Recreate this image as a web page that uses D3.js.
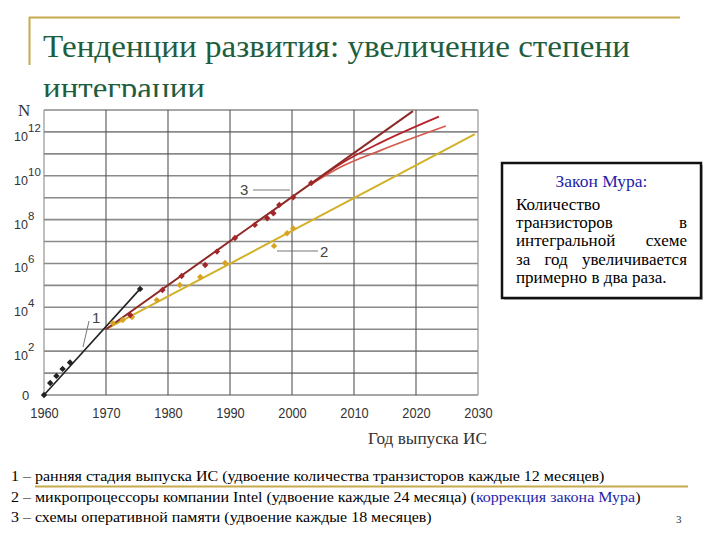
<!DOCTYPE html>
<html>
<head>
<meta charset="utf-8">
<script src="https://cdn.jsdelivr.net/npm/d3@7"></script>
<style>
body{margin:0;background:#fff}
.serif{font-family:'Liberation Serif','DejaVu Serif',serif}
.sans{font-family:'Liberation Sans','DejaVu Sans',sans-serif}
</style>
</head>
<body>
<script>
var xTicks = [1960,1970,1980,1990,2000,2010,2020,2030];
var yLabels = [0,2,4,6,8,10,12];
var yGrid = [0,1,2,3,4,5,6,7,8,9,10,11,12,13];

// [year, log10 N]
var line1 = [[1960,0],[1975.5,4.84]];
var marks1 = [[1960,0],[1961,0.55],[1962,0.87],[1963,1.19],[1964.2,1.48],[1975.5,4.84]];
var line2 = [[1970,3.0],[2029.5,11.9]];
var marks2 = [[1971.1,3.28],[1972.7,3.42],[1974.2,3.56],[1978.2,4.33],[1981.9,5.02],[1985.2,5.38],[1989.2,6.02],[1997.1,6.80],[1999.2,7.38],[2000.2,7.60]];
var line3 = [[1970,3.0],[2019.5,12.95]];
var line3a = [[2003,9.6],[2008,10.57],[2014.2,11.5],[2023.7,12.7]];
var line3b = [[2003,9.6],[2008,10.42],[2014.2,11.15],[2024.8,12.27]];
var marks3 = [[1973.9,3.65],[1979.1,4.79],[1982.2,5.43],[1986,5.93],[1987.9,6.54],[1990.8,7.16],[1994,7.76],[1996,8.06],[1997,8.29],[1997.95,8.67],[2000.2,9.02],[2003.1,9.67]];

var boxLines = [["Количество"],["транзисторов","в"],["интегральной","схеме"],["за","год","увеличивается"],["примерно","в","два","раза."]];
var notes = [
  [["1 – ранняя стадия выпуска ИС (удвоение количества транзисторов каждые 12 месяцев)","#000"]],
  [["2 – микропроцессоры компании Intel (удвоение каждые 24 месяца) (","#000"],["коррекция закона Мура","#1f1fa8"],[")","#000"]],
  [["3 – схемы оперативной памяти (удвоение каждые 18 месяцев)","#000"]]
];
var noteW = [594, 630, 421];

var svg = d3.select("body").append("svg").attr("width",720).attr("height",540);

function fit(sel, x, y, w){
  var n = sel.node().getComputedTextLength();
  sel.attr("transform","translate("+x+","+y+") scale("+(w/n)+",1)");
}

// slide frame
var gold = "#c8aa4e";
svg.append("line").attr("x1",29).attr("x2",680).attr("y1",17.5).attr("y2",17.5).attr("stroke",gold).attr("stroke-width",2);
svg.append("line").attr("x1",29.5).attr("x2",29.5).attr("y1",17).attr("y2",65).attr("stroke",gold).attr("stroke-width",2);

var t1 = svg.append("text").attr("class","serif").attr("font-size",31).attr("fill","#1e5e3e").text("Тенденции развития: увеличение степени");
fit(t1, 43, 57, 587);
var t2 = svg.append("text").attr("class","serif").attr("font-size",31).attr("fill","#1e5e3e").text("интеграции");
fit(t2, 43, 99, 162);

// chart picture covers the title's second line
svg.append("rect").attr("x",0).attr("y",97).attr("width",492).attr("height",356).attr("fill","#fff");

var x = d3.scaleLinear().domain([1960,2030]).range([44,478]);
var y = d3.scaleLinear().domain([0,13]).range([395,110]);

var g = svg.append("g");
g.selectAll(".hg").data(yGrid).enter().append("line")
  .attr("x1",x(1960)).attr("x2",x(2030))
  .attr("y1",function(d){return y(d);}).attr("y2",function(d){return y(d);})
  .attr("stroke","#8a8a8a").attr("stroke-width",1.6);
g.selectAll(".vg").data(xTicks).enter().append("line")
  .attr("x1",function(d){return x(d);}).attr("x2",function(d){return x(d);})
  .attr("y1",y(0)).attr("y2",y(13))
  .attr("stroke",function(d){return d==1960||d==2030?"#8a8a8a":"#555";}).attr("stroke-width",1.1);

// x axis labels
var ax = svg.append("g").attr("transform","translate(0,"+y(0)+")")
  .call(d3.axisBottom(x).tickValues(xTicks).tickSize(0).tickFormat(d3.format("d")));
ax.select(".domain").remove();
ax.attr("font-family",null);
ax.selectAll("text").attr("class","sans").attr("y",0).attr("dy",0).attr("transform","translate(0,23) scale(0.95,1.05)")
  .attr("font-size",13.5).attr("fill","#333");

// y labels
yLabels.forEach(function(e){
  var yy = y(e);
  if(e==0){
    svg.append("text").attr("class","sans").attr("x",25.5).attr("y",yy+5).attr("text-anchor","middle")
      .attr("font-size",13).attr("fill","#333").text("0");
  } else {
    svg.append("text").attr("class","sans").attr("x",28).attr("y",yy+9).attr("text-anchor","end")
      .attr("font-size",12.5).attr("fill","#333").text("10");
    svg.append("text").attr("class","sans").attr("x",28).attr("y",yy).attr("font-size",11.5)
      .attr("fill","#333").text(e);
  }
});
svg.append("text").attr("class","serif").attr("x",18).attr("y",116).attr("font-size",17).attr("fill","#333").text("N");
var xl = svg.append("text").attr("class","serif").attr("font-size",16).attr("fill","#333").text("Год выпуска ИС");
fit(xl, 368, 444, 119);

var line = d3.line().x(function(d){return x(d[0]);}).y(function(d){return y(d[1]);});
var curve = d3.line().curve(d3.curveMonotoneX).x(function(d){return x(d[0]);}).y(function(d){return y(d[1]);});

function draw(data, gen, color, w){
  svg.append("path").datum(data).attr("d",gen).attr("fill","none").attr("stroke",color).attr("stroke-width",w);
}
draw(line2, line, "#d2b128", 2);
draw(line3b, curve, "#d25a4c", 1.8);
draw(line3a, curve, "#b8232b", 1.8);
draw(line3, line, "#8e2a26", 2);
draw(line1, line, "#222", 1.6);

function marks(data, color){
  svg.append("g").selectAll("path").data(data).enter().append("path")
    .attr("d", d3.symbol().type(d3.symbolDiamond2).size(26))
    .attr("transform",function(d){return "translate("+x(d[0])+","+y(d[1])+")";})
    .attr("fill",color);
}
marks(marks2, "#d8a322");
marks(marks3, "#a3262a");
marks(marks1, "#222");

// series labels
function lab(txt, tx, ty, x1, y1, x2, y2){
  svg.append("line").attr("x1",x1).attr("y1",y1).attr("x2",x2).attr("y2",y2).attr("stroke","#777").attr("stroke-width",1);
  svg.append("text").attr("class","sans").attr("x",tx).attr("y",ty).attr("font-size",15).attr("fill","#444").text(txt);
}
lab("1", 92, 323, 89, 321, 83, 347);
lab("3", 240, 195, 253, 190, 290, 190);
lab("2", 320, 257, 277, 251, 318, 251);

// Moore box
svg.append("rect").attr("x",504).attr("y",165).attr("width",199).attr("height",135).attr("fill","#bbb");
svg.append("rect").attr("x",502).attr("y",163).attr("width",199).attr("height",135).attr("fill","#fff")
  .attr("stroke","#111").attr("stroke-width",2.5);
svg.append("text").attr("class","serif").attr("x",601.5).attr("y",187).attr("text-anchor","middle").attr("font-size",17.5)
  .attr("fill","#1f1fa8").text("Закон Мура:");
var bl = 516, br = 687;
boxLines.forEach(function(words, i){
  var by = 210 + i*18.2;
  var last = i == boxLines.length-1;
  var nodes = words.map(function(w){
    return svg.append("text").attr("class","serif").attr("y",by).attr("font-size",17).attr("fill","#000").text(w);
  });
  var widths = nodes.map(function(n){return n.node().getComputedTextLength();});
  var gap = (words.length>1 && !last) ? (br-bl-d3.sum(widths))/(words.length-1) : 4.3;
  var cx = bl;
  nodes.forEach(function(n,j){ n.attr("x",cx); cx += widths[j]+gap; });
});

// notes
notes.forEach(function(parts, i){
  var t = svg.append("text").attr("class","serif").attr("font-size",15);
  parts.forEach(function(p){ t.append("tspan").attr("fill",p[1]).text(p[0]); });
  fit(t, 11, 481 + i*20.7, noteW[i]);
});
svg.append("line").attr("x1",35).attr("x2",688).attr("y1",486.5).attr("y2",486.5).attr("stroke",gold).attr("stroke-width",2);
svg.append("text").attr("class","serif").attr("x",676).attr("y",523).attr("font-size",11).attr("fill","#333").text("3");
</script>
</body>
</html>
